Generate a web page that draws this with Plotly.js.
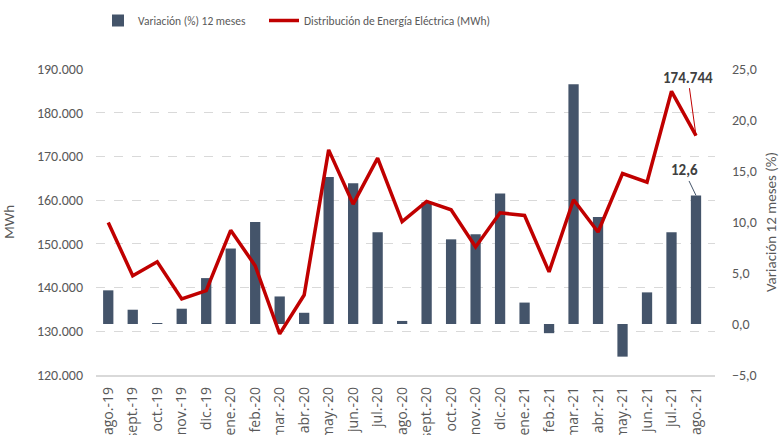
<!DOCTYPE html>
<html>
<head>
<meta charset="utf-8">
<script src="https://cdn.plot.ly/plotly-3.0.1.min.js"></script>
<style>html,body{margin:0;padding:0;background:#fff;}#chart{width:780px;height:435px;}</style>
</head>
<body>
<div id="chart"></div>
<script>
const months = ["ago.-19","sept.-19","oct.-19","nov.-19","dic.-19","ene.-20","feb.-20","mar.-20","abr.-20","may.-20","jun.-20","jul.-20","ago.-20","sept.-20","oct.-20","nov.-20","dic.-20","ene.-21","feb.-21","mar.-21","abr.-21","may.-21","jun.-21","jul.-21","ago.-21"];
const variacion = [3.3, 1.4, 0.1, 1.5, 4.5, 7.4, 10.0, 2.7, 1.1, 14.4, 13.8, 9.0, 0.3, 11.9, 8.3, 8.8, 12.8, 2.1, -0.9, 23.5, 10.5, -3.2, 3.1, 9.0, 12.6];
const distribucion = [154900, 142700, 145900, 137400, 139300, 153100, 145000, 129400, 138300, 171500, 159100, 169600, 155100, 159700, 157800, 149300, 157100, 156500, 143600, 160100, 152700, 166100, 164100, 184900, 174744];
const barName = "Variación (%) 12 meses";
const lineName = "Distribución de Energía Eléctrica (MWh)";

const FONT = "Carlito, Calibri, 'Open Sans', sans-serif";
const XFONT = "'Open Sans', 'Noto Sans', sans-serif";
const GRAY = "#595959";

function fmtThousands(v){ return String(Math.round(v)).replace(/\B(?=(\d{3})+(?!\d))/g, "."); }
function fmtDec(v){ return v.toFixed(1).replace(".", ","); }

const last = months.length - 1;

const traces = [
  {type:"bar", name:barName, x:months, y:variacion, yaxis:"y", legend:"legend",
   marker:{color:"#44546A", line:{width:0}}, hoverinfo:"x+y"},
  {type:"scatter", mode:"lines", name:lineName, x:months, y:distribucion, yaxis:"y2", legend:"legend2",
   line:{color:"#C00000", width:3.5}, hoverinfo:"x+y"}
];

const legendCommon = {orientation:"h", xref:"container", yref:"container", xanchor:"left",
  y:1-6/435, yanchor:"top", font:{family:FONT, size:11.5, color:GRAY}, bgcolor:"rgba(0,0,0,0)"};

const layout = {
  width:780, height:435,
  margin:{l:96, r:65, t:69, b:60, pad:0},
  paper_bgcolor:"#fff", plot_bgcolor:"#fff",
  separators:",.",
  font:{family:FONT, color:GRAY, size:13},
  bargap:0.58,
  showlegend:true,
  legend:Object.assign({}, legendCommon, {x:98/780}),
  legend2:Object.assign({}, legendCommon, {x:264/780}),
  xaxis:{type:"category", tickangle:-90, showgrid:false, zeroline:false,
         showline:true, linecolor:"#D9D9D9", linewidth:1.5, ticks:"",
         tickfont:{family:XFONT, size:14, color:GRAY}, automargin:false, ticklabelstandoff:5,
         fixedrange:true},
  yaxis:{side:"right", range:[-5,25], dtick:5, tick0:0, tickformat:".1f",
         showgrid:false, zeroline:false, showline:false, ticks:"",
         tickfont:{family:FONT, size:14, color:GRAY}, ticklabelstandoff:16,
         title:{text:"Variación 12 meses (%)", font:{family:FONT, size:15, color:GRAY}, standoff:14},
         automargin:false, fixedrange:true},
  yaxis2:{overlaying:"y", side:"left", range:[120000,190000], dtick:10000, tick0:120000,
          tickformat:",.0f", showgrid:true, gridcolor:"#D9D9D9", griddash:"dash", gridwidth:1,
          zeroline:false, showline:false, ticks:"",
          tickfont:{family:FONT, size:14, color:GRAY}, ticklabelstandoff:12,
          title:{text:"MWh", font:{family:FONT, size:15, color:GRAY}, standoff:18},
          automargin:false, fixedrange:true},
  annotations:[
    {xref:"x", yref:"y2", x:months[last], y:distribucion[last], text:"<b>"+fmtThousands(distribucion[last])+"</b>",
     showarrow:true, arrowhead:0, arrowwidth:1, arrowcolor:"#C00000", ax:-8, ay:-58,
     font:{family:FONT, size:15, color:"#404040"}},
    {xref:"x", yref:"y", x:months[last], y:variacion[last], text:"<b>"+fmtDec(variacion[last])+"</b>",
     showarrow:true, arrowhead:0, arrowwidth:1, arrowcolor:"#44546A", ax:-12, ay:-25,
     font:{family:FONT, size:15, color:"#404040"}}
  ]
};

Plotly.newPlot("chart", traces, layout, {displayModeBar:false, staticPlot:true});
</script>
</body>
</html>
